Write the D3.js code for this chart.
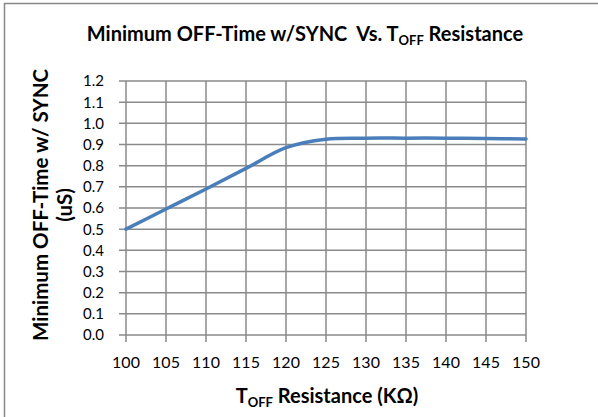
<!DOCTYPE html>
<html><head><meta charset="utf-8">
<script src="https://cdn.jsdelivr.net/npm/d3@7"></script>
<style>body{margin:0;background:#fff}svg{display:block}text{font-family:Lato,"Open Sans",sans-serif;fill:#000;white-space:pre}</style>
</head><body><div id="c"></div>
<script>
const resistance = [100,105,110,115,120,125,130,135,140,145,150];
const offTime = [0.50,0.595,0.69,0.787,0.885,0.925,0.93,0.93,0.93,0.928,0.926];
const xTicks = [100,105,110,115,120,125,130,135,140,145,150];
const yTicks = [0,0.1,0.2,0.3,0.4,0.5,0.6,0.7,0.8,0.9,1.0,1.1,1.2];

const W=598,H=417;
const m={l:126,r:72,t:81,b:82};
const svg=d3.select("#c").append("svg").attr("width",W).attr("height",H);
svg.append("rect").attr("x",4.5).attr("y",3.5).attr("width",W).attr("height",H).attr("fill","#fff").attr("stroke","#888").attr("stroke-width",1.5);

const x=d3.scaleLinear().domain([100,150]).range([m.l,W-m.r]);
const y=d3.scaleLinear().domain([0,1.2]).range([H-m.b,m.t]);
const grid="#8a8a8a";

svg.append("g").selectAll("line").data(yTicks).join("line")
 .attr("x1",m.l-7).attr("x2",W-m.r).attr("y1",d=>y(d)).attr("y2",d=>y(d))
 .attr("stroke",grid).attr("stroke-width",1.5);
svg.append("g").selectAll("line").data(xTicks).join("line")
 .attr("x1",d=>x(d)).attr("x2",d=>x(d)).attr("y1",m.t).attr("y2",H-m.b+7)
 .attr("stroke",grid).attr("stroke-width",1.5);

svg.append("g").selectAll("text").data(yTicks).join("text")
 .attr("x",104).attr("y",d=>y(d)).attr("dy","0.36em").attr("text-anchor","end")
 .attr("font-size",15).text(d=>d3.format(".1f")(d));
svg.append("g").selectAll("text").data(xTicks).join("text")
 .attr("x",d=>x(d)).attr("y",368).attr("text-anchor","middle")
 .attr("font-size",16).text(d=>d);

svg.append("path").datum(resistance.map((r,i)=>[r,offTime[i]]))
 .attr("fill","none").attr("stroke","#4a7ebb").attr("stroke-width",3.5).attr("stroke-linecap","round")
 .attr("d",d3.line().x(d=>x(d[0])).y(d=>y(d[1])).curve(d3.curveCatmullRom.alpha(0.5)));

const t=svg.append("text").attr("x",305).attr("y",41).attr("text-anchor","middle").attr("font-size",20).attr("font-weight","bold");
t.append("tspan").text("Minimum OFF-Time w/SYNC  Vs. T");
t.append("tspan").attr("font-size",13).attr("dy",4).text("OFF");
t.append("tspan").attr("dy",-4).text(" Resistance");

const xt=svg.append("text").attr("x",327).attr("y",403).attr("text-anchor","middle").attr("font-size",20).attr("font-weight","bold");
xt.append("tspan").text("T");
xt.append("tspan").attr("font-size",13).attr("dy",4).text("OFF");
xt.append("tspan").attr("dy",-4).text(" Resistance (KΩ)");

const yt=svg.append("text").attr("transform","translate(48,205) rotate(-90)").attr("text-anchor","middle").attr("font-size",20.5).attr("font-weight","bold");
yt.append("tspan").attr("x",0).attr("y",0).text("Minimum OFF-Time w/ SYNC");
yt.append("tspan").attr("x",0).attr("y",24).text("(uS)");
</script></body></html>
